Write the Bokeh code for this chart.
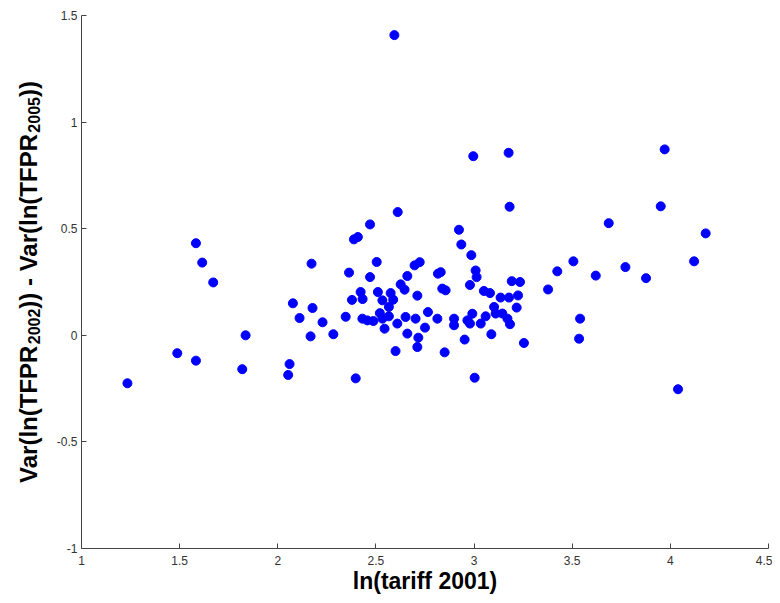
import math
from bokeh.plotting import figure
from bokeh.layouts import row
from bokeh.models import Range1d, FixedTicker, ColumnDataSource
from bokeh.core.properties import value
from bokeh.embed import file_html
from bokeh.resources import INLINE

ln_tariff_2001 = [
    1.234, 1.488, 1.583, 1.583, 1.615, 1.671, 1.819, 1.836, 2.053, 2.060,
    2.077, 2.111, 2.167, 2.172, 2.177, 2.228, 2.283, 2.346, 2.363, 2.378,
    2.388, 2.397, 2.408, 2.422, 2.431, 2.432, 2.456, 2.470, 2.470, 2.487,
    2.504, 2.510, 2.520, 2.533, 2.533, 2.544, 2.566, 2.566, 2.575, 2.588,
    2.594, 2.600, 2.609, 2.611, 2.626, 2.646, 2.651, 2.660, 2.660, 2.697,
    2.702, 2.711, 2.711, 2.716, 2.723, 2.750, 2.765, 2.813, 2.816, 2.830,
    2.838, 2.850, 2.855, 2.898, 2.898, 2.923, 2.935, 2.952, 2.966, 2.979,
    2.979, 2.986, 2.991, 2.996, 3.003, 3.008, 3.013, 3.034, 3.050, 3.059,
    3.081, 3.088, 3.102, 3.110, 3.135, 3.144, 3.170, 3.176, 3.178, 3.181,
    3.183, 3.192, 3.217, 3.224, 3.234, 3.254, 3.377, 3.424, 3.506, 3.535,
    3.540, 3.620, 3.686, 3.771, 3.876, 3.951, 3.971, 4.039, 4.121, 4.180,
]
var_diff = [
    -0.225, -0.084, 0.432, -0.119, 0.341, 0.248, -0.159, 0.000, -0.186, -0.135,
    0.150, 0.081, -0.005, 0.336, 0.128, 0.061, 0.005, 0.087, 0.294, 0.166,
    0.450, -0.202, 0.461, 0.203, 0.078, 0.170, 0.070, 0.520, 0.273, 0.067,
    0.344, 0.203, 0.104, 0.164, 0.078, 0.031, 0.133, 0.089, 0.198, 0.167,
    1.408, -0.074, 0.055, 0.578, 0.239, 0.214, 0.086, 0.278, 0.008, 0.328,
    0.078, 0.186, -0.055, -0.011, 0.343, 0.036, 0.109, 0.078, 0.289, 0.296,
    0.219, -0.080, 0.211, 0.078, 0.047, 0.495, 0.426, -0.020, 0.070, 0.055,
    0.236, 0.376, 0.101, 0.840, -0.199, 0.304, 0.273, 0.055, 0.208, 0.089,
    0.198, 0.005, 0.133, 0.102, 0.177, 0.102, 0.078, 0.856, 0.177, 0.603,
    0.052, 0.254, 0.130, 0.187, 0.250, -0.036, 0.215, 0.300, 0.347, -0.016,
    0.078, 0.280, 0.526, 0.320, 0.268, 0.605, 0.872, -0.253, 0.347, 0.478,
]

x_ticks = [1, 1.5, 2, 2.5, 3, 3.5, 4, 4.5]
x_tick_labels = ["1", "1.5", "2", "2.5", "3", "3.5", "4", "4.5"]
y_ticks = [-1, -0.5, 0, 0.5, 1, 1.5]
y_tick_labels = ["-1", "-0.5", "0", "0.5", "1", "1.5"]

x_label = "ln(tariff 2001)"
# y label pieces: (text, is_subscript)
y_label_parts = [
    ("Var(ln(TFPR", False),
    ("2002", True),
    (")) - Var(ln(TFPR", False),
    ("2005", True),
    ("))", False),
]

X0, X1 = 1, 4.5
Y0, Y1 = -1, 1.5

W, H = 772, 600
LAB_W = 50                      # width of the strip that holds the y label
BORDER_L, BORDER_R, BORDER_T, BORDER_B = 81, 4, 15, 52
FRAME_H = H - BORDER_T - BORDER_B

XLAB_PX = 23
MAIN_PX = 24
SUB_PX = 16
FONT = "Liberation Sans"
BASE_X, SUB_X = 28, 33          # baseline positions (px) inside the label strip

# Arial/Liberation Sans Bold advance widths (per 1000 em)
ADV = {"V": 667, "a": 556, "r": 389, "(": 333, ")": 333, "l": 278, "n": 611,
       "T": 611, "F": 611, "P": 667, "R": 722, " ": 278, "-": 333,
       "0": 556, "1": 556, "2": 556, "5": 556}


def text_w(s, px):
    return sum(ADV.get(c, 556) for c in s) * px / 1000.0


source = ColumnDataSource(data=dict(x=ln_tariff_2001, y=var_diff))

p = figure(
    width=W - LAB_W, height=H,
    x_range=Range1d(X0, X1), y_range=Range1d(Y0, Y1),
    output_backend="svg", toolbar_location=None,
    min_border_left=BORDER_L - LAB_W, min_border_right=BORDER_R,
    min_border_top=BORDER_T, min_border_bottom=BORDER_B,
)
p.outline_line_color = None
p.grid.visible = False
p.background_fill_color = "white"

p.scatter("x", "y", source=source, size=9, fill_color="#0000ff", line_color="#0000ff",
          line_width=1)

p.xaxis.ticker = FixedTicker(ticks=x_ticks)
p.yaxis.ticker = FixedTicker(ticks=y_ticks)
p.xaxis.major_label_overrides = {t: l for t, l in zip(x_ticks, x_tick_labels)}
p.yaxis.major_label_overrides = {t: l for t, l in zip(y_ticks, y_tick_labels)}

for ax in (p.xaxis[0], p.yaxis[0]):
    ax.axis_line_color = "#444444"
    ax.axis_line_width = 1
    ax.major_tick_line_color = "#444444"
    ax.major_tick_in = 5
    ax.major_tick_out = 0
    ax.minor_tick_line_color = None
    ax.major_label_text_font = FONT
    ax.major_label_text_font_size = "12px"
    ax.major_label_text_color = "#333333"
    ax.axis_label_text_font = FONT
    ax.axis_label_text_font_style = "bold"
    ax.axis_label_text_font_size = f"{XLAB_PX}px"
    ax.axis_label_text_color = "#000000"

p.xaxis.axis_label = x_label
p.xaxis.major_label_standoff = 7
p.yaxis.major_label_standoff = 4
p.xaxis.axis_label_standoff = 0

# narrow strip with the rotated y-axis label (real text, real subscripts);
# its frame spans the same rows as the main frame, units are pixels
lab = figure(
    width=LAB_W, height=H,
    x_range=Range1d(0, LAB_W), y_range=Range1d(0, FRAME_H),
    output_backend="svg", toolbar_location=None,
    x_axis_location=None, y_axis_location=None,
    min_border_left=0, min_border_right=0,
    min_border_top=BORDER_T, min_border_bottom=BORDER_B,
)
lab.outline_line_color = None
lab.grid.visible = False

total = sum(text_w(t, SUB_PX if sub else MAIN_PX) for t, sub in y_label_parts)
pos = FRAME_H / 2 - total / 2
for t, sub in y_label_parts:
    px = SUB_PX if sub else MAIN_PX
    lab.text(
        x=[SUB_X if sub else BASE_X], y=[pos], text=[t], angle=math.pi / 2,
        text_font=value(FONT), text_font_style="bold", text_font_size=f"{px}px",
        text_color="#000000", text_align="left", text_baseline="alphabetic",
    )
    pos += text_w(t, px)

layout = row(lab, p, spacing=0)
open("out.html", "w").write(file_html(layout, INLINE))
